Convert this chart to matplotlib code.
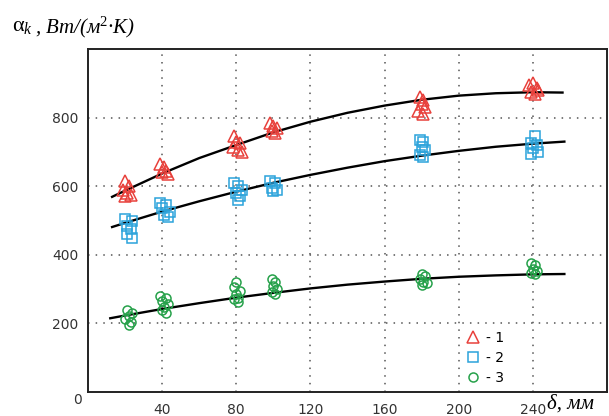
import matplotlib
matplotlib.use("Agg")
import matplotlib.pyplot as plt
from matplotlib.lines import Line2D

# measured points (delta, mm ; alpha)
x1 = [20, 22, 19, 21, 23, 20, 39, 41, 42, 40, 43, 79, 80, 82, 78, 81, 83,
      98, 100, 102, 99, 101, 179, 181, 180, 182, 178, 181, 238, 240, 242, 239, 241, 243]
y1 = [615, 600, 590, 580, 575, 570, 665, 655, 645, 640, 635, 745, 730, 725, 715, 705, 700,
      785, 775, 770, 760, 755, 860, 850, 840, 830, 820, 810, 895, 900, 885, 875, 870, 880]

x2 = [20, 24, 21, 23, 21, 24, 39, 42, 40, 44, 41, 43, 79, 81, 83, 80, 82, 81,
      98, 101, 99, 102, 100, 179, 181, 180, 182, 179, 181, 241, 239, 242, 240, 243, 239]
y2 = [505, 500, 485, 475, 462, 450, 550, 545, 535, 525, 515, 510, 610, 600, 590, 580, 570, 560,
      615, 610, 595, 590, 585, 735, 730, 715, 705, 690, 685, 745, 725, 720, 710, 700, 695]

x3 = [21, 24, 22, 20, 23, 22, 39, 42, 40, 43, 41, 40, 42, 80, 79, 82, 80, 81, 79, 81,
      99, 101, 100, 102, 99, 101, 180, 182, 179, 181, 183, 180, 239, 241, 240, 242, 239, 241]
y3 = [240, 230, 222, 212, 205, 195, 280, 275, 265, 258, 248, 240, 230, 320, 305, 295, 285, 275, 270, 262,
      330, 322, 310, 300, 292, 285, 345, 338, 330, 322, 318, 312, 375, 370, 360, 352, 348, 345]

# approximating curves
cx1 = [13, 20, 40, 60, 80, 100, 120, 140, 160, 180, 200, 220, 240, 256]
cy1 = [569, 587, 637, 682, 720, 757, 788, 814, 835, 852, 864, 871, 874, 873]
cx2 = [13, 20, 40, 60, 80, 100, 120, 140, 160, 180, 200, 220, 240, 257]
cy2 = [481, 493, 526, 556, 584, 610, 633, 654, 673, 689, 703, 715, 724, 730]
cx3 = [12, 20, 40, 60, 80, 100, 120, 140, 160, 180, 200, 220, 240, 257]
cy3 = [215, 223, 242, 259, 275, 289, 302, 313, 322, 330, 336, 340, 343, 344]

xticks = [40, 80, 120, 160, 200, 240]
yticks = [200, 400, 600, 800]
labels = ["- 1", "- 2", "- 3"]

red = "#e8413c"
blue = "#2ba3db"
green = "#26a14a"

fig = plt.figure(figsize=(6.09, 4.16), dpi=100)
ax = fig.add_axes([88 / 609, 24 / 416, 519 / 609, 343 / 416])

for cx, cy in [(cx1, cy1), (cx2, cy2), (cx3, cy3)]:
    ax.plot(cx, cy, color="black", lw=1.7, zorder=2)

ax.plot(x1, y1, "^", ms=8, mfc="none", mec=red, mew=1.1, ls="none", zorder=3)
ax.plot(x2, y2, "s", ms=6.5, mfc="none", mec=blue, mew=1.1, ls="none", zorder=3)
ax.plot(x3, y3, "o", ms=6.5, mfc="none", mec=green, mew=1.1, ls="none", zorder=3)

ax.set_xlim(0, 280)
ax.set_ylim(0, 1000)
ax.set_xticks(xticks)
ax.set_yticks(yticks)
ax.grid(True, color="#555555", ls=(0, (1, 4)), lw=1.1)
ax.tick_params(length=0, labelsize=10, labelcolor="#333333")
ax.tick_params(axis="x", pad=8)
ax.tick_params(axis="y", pad=7)
for s in ax.spines.values():
    s.set_linewidth(1.4)
    s.set_color("#222222")

fig.text(77 / 609, 1 - 400 / 416, "0", fontsize=10, color="#333333",
         ha="center", va="center")

plt.rcParams["mathtext.fontset"] = "custom"
plt.rcParams["mathtext.rm"] = "Liberation Serif"
plt.rcParams["mathtext.it"] = "Liberation Serif:italic"

fig.text(12 / 609, 1 - 27 / 416, r"$\mathrm{\alpha}_k$", fontsize=16,
         family="Liberation Serif", va="center", ha="left")
fig.text(35 / 609, 1 - 27 / 416, r", Вт/(м$^2$·К)", fontsize=15,
         family="Liberation Serif", style="italic", va="center", ha="left")
fig.text(547 / 609, 1 - 404 / 416, "δ, мм", fontsize=15,
         family="Liberation Serif", style="italic", va="center", ha="left")

handles = [
    Line2D([], [], marker="^", ms=8, mfc="none", mec=red, mew=1.1, ls="none"),
    Line2D([], [], marker="s", ms=6.5, mfc="none", mec=blue, mew=1.1, ls="none"),
    Line2D([], [], marker="o", ms=6.5, mfc="none", mec=green, mew=1.1, ls="none"),
]
ax.legend(handles, labels, loc="upper left", bbox_to_anchor=(0.7105, 0.207),
          frameon=False, fontsize=10, handlelength=1, handletextpad=0.4,
          labelspacing=0.45, borderpad=0.2)

fig.savefig("out.png", dpi=100)
